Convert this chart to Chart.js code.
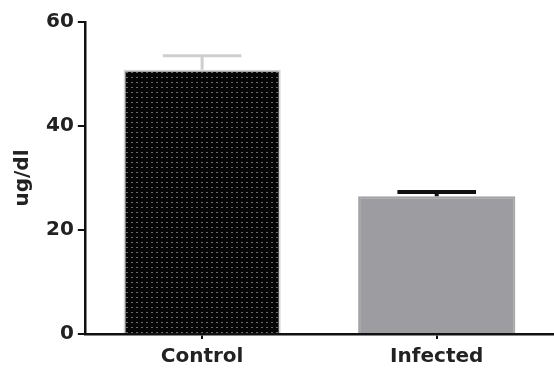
<!DOCTYPE html>
<html>
<head>
<meta charset="utf-8">
<script src="https://cdn.jsdelivr.net/npm/chart.js@4"></script>
<style>
  html, body { margin: 0; padding: 0; background: #fff; }
  #wrap { width: 554px; height: 376px; }
</style>
</head>
<body>
<div id="wrap"><canvas id="chart"></canvas></div>
<script>
// Data
const groups = ['Control', 'Infected'];
const means = [50.8, 26.5];
const sem = [2.7, 0.8];
const yTicks = [0, 20, 40, 60];

// dotted black fill for the control bar
function dotPattern() {
    const c = document.createElement('canvas');
    c.width = 5; c.height = 5;
    const g = c.getContext('2d');
    g.fillStyle = '#050505';
    g.fillRect(0, 0, 5, 5);
    g.fillStyle = '#6a6a6a';
    g.fillRect(1, 2, 2, 1);
    return g.createPattern(c, 'repeat');
}

const barFill = [dotPattern(), '#9d9ca1'];
const barEdge = ['#d2d2d2', '#a4a3a8'];
const errColor = ['#cfcfcf', '#111111'];

// error bars (upper half only) drawn through the y scale
const errorBars = {
    id: 'errorBars',
    afterDatasetsDraw(chart) {
        const ctx = chart.ctx;
        const y = chart.scales.y;
        const meta = chart.getDatasetMeta(0);
        meta.data.forEach((bar, i) => {
            const yTop = y.getPixelForValue(means[i] + sem[i]);
            const yMean = y.getPixelForValue(means[i]);
            const half = bar.width / 4;
            ctx.save();
            ctx.strokeStyle = errColor[i];
            ctx.lineWidth = i === 0 ? 3 : 4;
            ctx.beginPath();
            ctx.moveTo(bar.x, yMean);
            ctx.lineTo(bar.x, yTop);
            ctx.moveTo(bar.x - half, yTop);
            ctx.lineTo(bar.x + half, yTop);
            ctx.stroke();
            ctx.restore();
        });
    }
};

const font = { family: '"DejaVu Sans", sans-serif', size: 20, weight: 'bold' };

new Chart(document.getElementById('chart'), {
    type: 'bar',
    data: {
        labels: groups,
        datasets: [{
            data: means,
            backgroundColor: barFill,
            borderColor: barEdge,
            borderWidth: 2,
            barPercentage: 0.67,
            categoryPercentage: 1
        }]
    },
    options: {
        responsive: true,
        maintainAspectRatio: false,
        animation: false,
        layout: { padding: { top: 22, right: 0, bottom: 1, left: 11 } },
        plugins: { legend: { display: false }, tooltip: { enabled: false } },
        scales: {
            x: {
                grid: { display: true, drawOnChartArea: false, offset: false, color: '#111', lineWidth: 2, tickLength: 5 },
                border: { color: '#111', width: 2.5 },
                ticks: { color: '#222', font, padding: 6 }
            },
            y: {
                min: 0, max: 60,
                afterBuildTicks: axis => { axis.ticks = yTicks.map(v => ({ value: v })); },
                grid: { display: true, drawOnChartArea: false, color: '#111', lineWidth: 2, tickLength: 7 },
                border: { color: '#111', width: 2.5 },
                ticks: { color: '#222', font, padding: 4 },
                title: { display: true, text: 'ug/dl', color: '#222', font, padding: { top: 0, bottom: 7 } }
            }
        }
    },
    plugins: [errorBars]
});
</script>
</body>
</html>
